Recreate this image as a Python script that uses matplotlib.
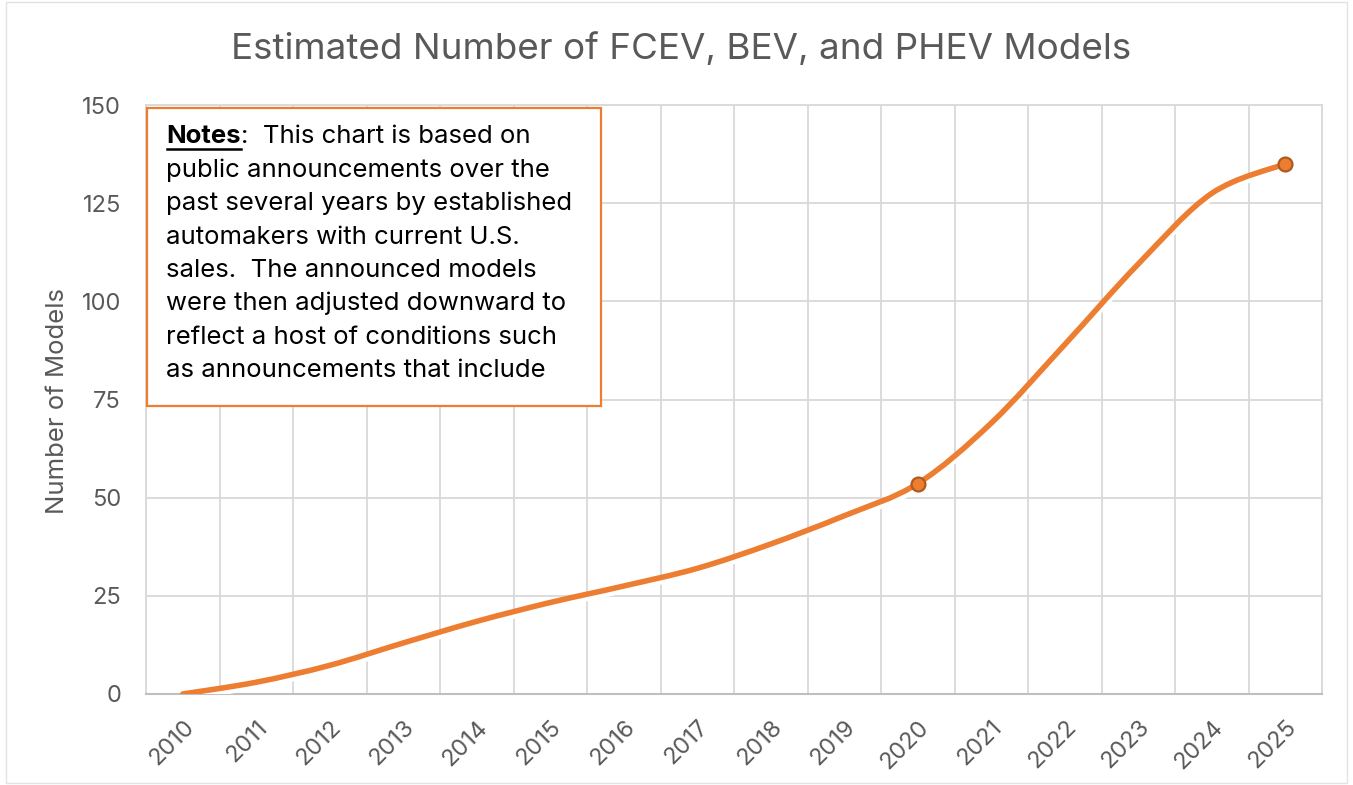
import matplotlib
matplotlib.use("Agg")
import matplotlib.pyplot as plt
import matplotlib.patheffects as pe
from matplotlib.path import Path
from matplotlib.patches import PathPatch, Rectangle
from matplotlib.lines import Line2D

# data
years = [str(y) for y in range(2010, 2026)]
models = [0, 3, 7.3, 13, 18.5, 23.3, 27.5, 32, 38.2, 45.4, 53.6, 69, 89, 109.5, 127.5, 135]
marked = [10, 15]  # 2020 and 2025 carry a marker

title = "Estimated Number of FCEV, BEV, and PHEV Models"
y_label = "Number of Models"
y_ticks = [0, 25, 50, 75, 100, 125, 150]

note_head = "Notes"
note_first = ":  This chart is based on"
note_lines = [
    "public announcements over the",
    "past several years by established",
    "automakers with current U.S.",
    "sales.  The announced models",
    "were then adjusted downward to",
    "reflect a host of conditions such",
    "as announcements that include",
]

orange = "#ED7D31"
grey_text = "#595959"
grid = "#d9d9d9"
FONT = "Inter"


def smooth_path(xs, ys):
    # excel style smoothed line: cubic bezier through every point
    n = len(xs)
    verts = [(xs[0], ys[0])]
    codes = [Path.MOVETO]
    for i in range(n - 1):
        a = max(i - 1, 0)
        d = min(i + 2, n - 1)
        c1 = (xs[i] + (xs[i + 1] - xs[a]) / 6, ys[i] + (ys[i + 1] - ys[a]) / 6)
        c2 = (xs[i + 1] - (xs[d] - xs[i]) / 6, ys[i + 1] - (ys[d] - ys[i]) / 6)
        verts += [c1, c2, (xs[i + 1], ys[i + 1])]
        codes += [Path.CURVE4] * 3
    return Path(verts, codes)


W, H = 1353, 785
fig = plt.figure(figsize=(W / 100, H / 100), dpi=100)
ax = fig.add_axes([146 / W, 1 - 694 / H, 1176 / W, 589 / H])

xs = list(range(len(years)))
ax.set_xlim(-0.5, len(years) - 0.5)
ax.set_ylim(0, 150)

# gridlines between categories and at every y tick
ax.set_xticks([x - 0.5 for x in range(len(years) + 1)], minor=True)
ax.grid(which="minor", axis="x", color=grid, linewidth=1.3)
ax.set_yticks(y_ticks)
ax.grid(which="major", axis="y", color=grid, linewidth=1.3)
ax.set_axisbelow(True)
for s in ["left", "right", "top"]:
    ax.spines[s].set_color(grid)
    ax.spines[s].set_linewidth(1.3)
ax.spines["bottom"].set_color("#bfbfbf")
ax.spines["bottom"].set_linewidth(1.5)

ax.set_xticks(xs)
ax.set_xticklabels(years, rotation=45, ha="right", va="top", rotation_mode="anchor",
                   fontsize=17, color=grey_text, family=FONT)
for lbl in ax.get_yticklabels():
    lbl.set_fontsize(17)
    lbl.set_color(grey_text)
    lbl.set_family(FONT)
ax.tick_params(axis="both", which="both", length=0)
ax.tick_params(axis="x", pad=16)
ax.tick_params(axis="y", pad=18)

line = PathPatch(smooth_path(xs, models), facecolor="none", edgecolor=orange,
                 linewidth=4, capstyle="round", joinstyle="round", zorder=3)
line.set_path_effects([pe.Stroke(offset=(0.5, -3), linewidth=4, foreground="white"),
                       pe.Normal()])
ax.add_patch(line)
ax.plot(xs, models, linestyle="none", marker="o", markevery=marked, ms=10,
        mfc=orange, mec="#AE5A21", mew=1.6, zorder=4)

fig.text(681 / W, 1 - 59 / H, title, ha="center", va="baseline",
         fontsize=26.5, color=grey_text, family=FONT)
fig.text(58 / W, 1 - 401 / H, y_label, rotation=90, ha="center", va="center",
         fontsize=18.5, color=grey_text, family=FONT)

# notes box on top of the plot area
fig.patches.append(Rectangle((147 / W, 1 - 406 / H), 454 / W, 298 / H,
                             transform=fig.transFigure, facecolor="white",
                             edgecolor=orange, linewidth=1.6, zorder=5))
x0 = 166.5
base = 143.3
step = 33.4
fs = 18.5
head = fig.text(x0 / W, 1 - base / H, note_head, ha="left", va="baseline",
                fontsize=fs, fontweight="bold", color="black", family=FONT, zorder=6)
fig.canvas.draw()
bb = head.get_window_extent()
fig.text(bb.x1 / W, 1 - base / H, note_first, ha="left", va="baseline",
         fontsize=fs, color="black", family=FONT, zorder=6)
uy = 1 - (base + 5.5) / H
fig.lines.append(Line2D([bb.x0 / W, bb.x1 / W], [uy, uy], transform=fig.transFigure,
                        color="black", linewidth=1.8, zorder=6))
for i, t in enumerate(note_lines):
    fig.text(x0 / W, 1 - (base + step * (i + 1)) / H, t, ha="left", va="baseline",
             fontsize=fs, color="black", family=FONT, zorder=6)

# thin chart-area border
fig.patches.append(Rectangle((6 / W, 2 / H), (W - 12) / W, (H - 4) / H,
                             transform=fig.transFigure, facecolor="none",
                             edgecolor="#e3e3e3", linewidth=1.0, zorder=0))

fig.savefig("out.png", dpi=100)
